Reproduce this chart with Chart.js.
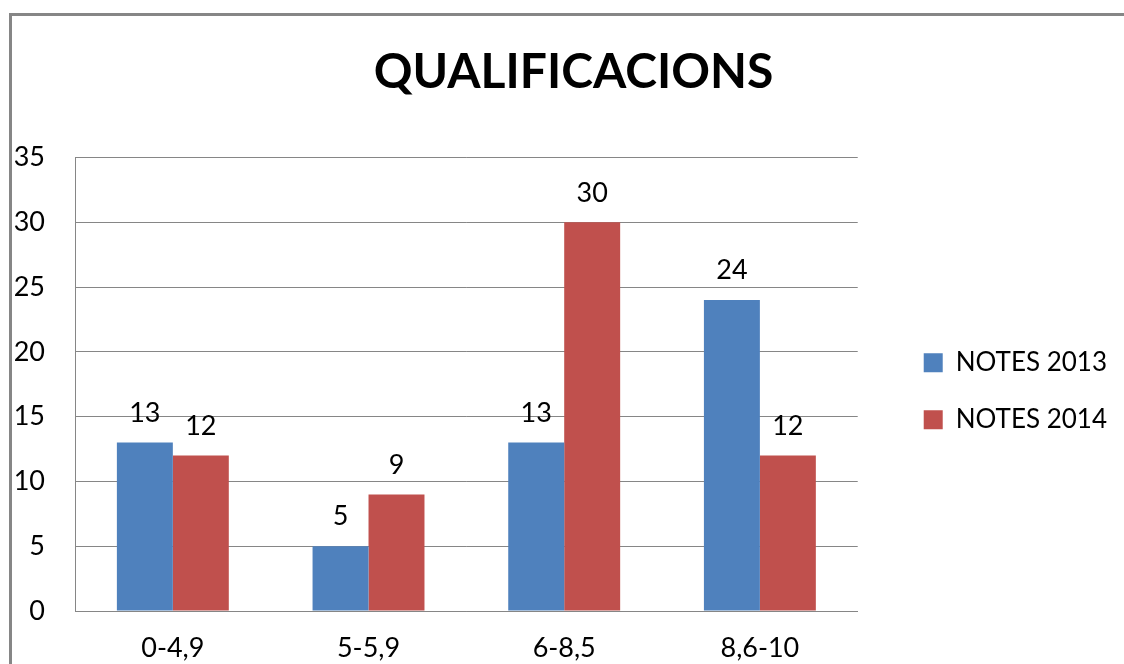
<!DOCTYPE html>
<html>
<head>
<meta charset="utf-8">
<script src="https://cdn.jsdelivr.net/npm/chart.js@4"></script>
<style>
  html, body { margin: 0; padding: 0; background: #fff; }
  #wrap { width: 1124px; height: 664px; }
</style>
</head>
<body>
<div id="wrap"><canvas id="qualificacions"></canvas></div>
<script>
const categories = ["0-4,9", "5-5,9", "6-8,5", "8,6-10"];
const notes2013 = [13, 5, 13, 24];
const notes2014 = [12, 9, 30, 12];
const seriesLabels = ["NOTES 2013", "NOTES 2014"];
const yTicks = [0, 5, 10, 15, 20, 25, 30, 35];

const gray = "#868686";
const fontFamily = "Lato, 'Open Sans', sans-serif";

// outer frame of the excel chart object
const framePlugin = {
  id: "frame",
  beforeDraw(chart) {
    const ctx = chart.ctx;
    ctx.save();
    ctx.fillStyle = "#fff";
    ctx.fillRect(0, 0, chart.width, chart.height);
    ctx.strokeStyle = gray;
    ctx.lineWidth = 3;
    ctx.strokeRect(10.5, 14.5, 1400, 900);
    ctx.restore();
  }
};

// value labels above the bars
const valueLabels = {
  id: "valueLabels",
  afterDatasetsDraw(chart) {
    const ctx = chart.ctx;
    ctx.save();
    ctx.font = "27px " + fontFamily;
    ctx.fillStyle = "#000";
    ctx.textAlign = "center";
    ctx.textBaseline = "middle";
    chart.data.datasets.forEach((ds, i) => {
      chart.getDatasetMeta(i).data.forEach((bar, j) => {
        ctx.fillText(String(ds.data[j]), bar.x, bar.y - 29.5);
      });
    });
    ctx.restore();
  }
};

// blank axis used only to take up room on the right
const spacerAxis = (w, weight) => ({
  position: "right",
  display: true,
  weight: weight,
  grid: { display: false, drawTicks: false },
  border: { display: false },
  ticks: { display: false },
  afterFit(s) { s.width = w; }
});

const ctx = document.getElementById("qualificacions").getContext("2d");
new Chart(ctx, {
  type: "bar",
  data: {
    labels: categories,
    datasets: [
      {
        label: seriesLabels[0],
        data: notes2013,
        backgroundColor: "#4F81BD",
        borderWidth: 0
      },
      {
        label: seriesLabels[1],
        data: notes2014,
        backgroundColor: "#C0504D",
        borderWidth: 0
      }
    ]
  },
  options: {
    responsive: true,
    maintainAspectRatio: false,
    animation: false,
    datasets: {
      bar: { categoryPercentage: 0.572, barPercentage: 1 }
    },
    layout: { padding: { left: 15, right: -8, top: 0, bottom: 0 } },
    plugins: {
      tooltip: { enabled: false },
      title: {
        display: true,
        text: "QUALIFICACIONS",
        color: "#000",
        font: { family: fontFamily, size: 48, weight: "bold", lineHeight: 1.2 },
        padding: { top: 44, bottom: 56 }
      },
      legend: {
        position: "right",
        fullSize: false,
        maxWidth: 400,
        title: { display: true, text: "", padding: 0, font: { size: 14, lineHeight: 1 } },
        labels: {
          color: "#000",
          font: { family: fontFamily, size: 26 },
          boxWidth: 19,
          boxHeight: 19,
          padding: 31
        }
      }
    },
    scales: {
      x: {
        grid: { display: false, drawTicks: false },
        border: { display: true, color: gray, width: 1 },
        ticks: { color: "#000", font: { family: fontFamily, size: 27 }, padding: 21 },
        afterFit(s) { s.height = 53; }
      },
      y: {
        min: 0,
        max: 35,
        afterBuildTicks(s) { s.ticks = yTicks.map(v => ({ value: v })); },
        grid: { color: gray, lineWidth: 1, drawTicks: false },
        border: { display: true, color: gray, width: 1 },
        ticks: { color: "#000", font: { family: fontFamily, size: 27 }, padding: 30 },
        afterFit(s) { s.width = 60; }
      },
      spacer: spacerAxis(35, 0),
      spacerEdge: spacerAxis(15, 2000)
    }
  },
  plugins: [framePlugin, valueLabels]
});
</script>
</body>
</html>
